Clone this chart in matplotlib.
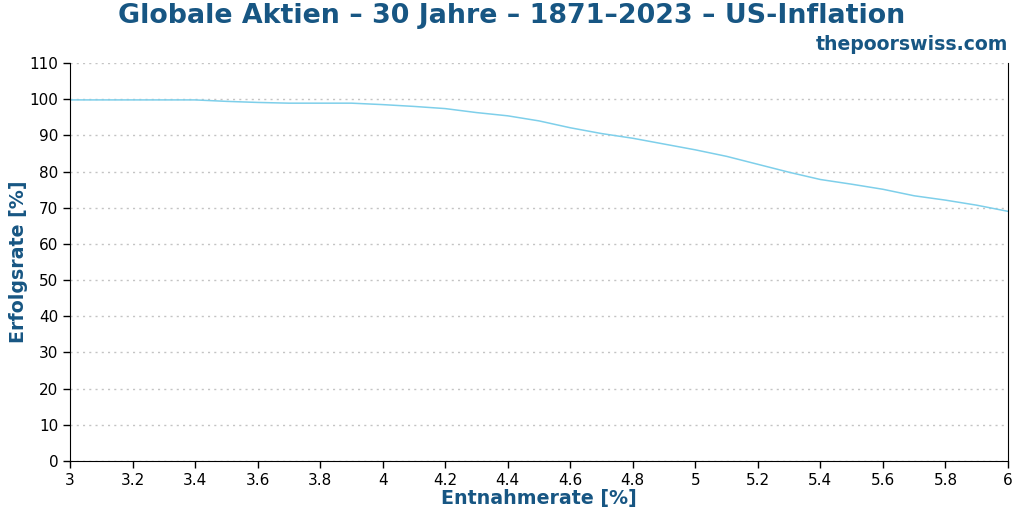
import numpy as np
import matplotlib
matplotlib.use('Agg')
import matplotlib.pyplot as plt

# Entnahmerate [%] vs Erfolgsrate [%]
rate = [3.0, 3.1, 3.2, 3.3, 3.4, 3.5, 3.6, 3.7, 3.8, 3.9, 4.0,
        4.1, 4.2, 4.3, 4.4, 4.5, 4.6, 4.7, 4.8, 4.9, 5.0,
        5.1, 5.2, 5.3, 5.4, 5.5, 5.6, 5.7, 5.8, 5.9, 6.0]
success = [99.8, 99.8, 99.8, 99.8, 99.8, 99.4, 99.1, 98.9, 98.9, 98.9, 98.5,
           98.0, 97.4, 96.3, 95.4, 94.0, 92.1, 90.5, 89.2, 87.6, 86.0,
           84.2, 82.0, 79.8, 77.8, 76.5, 75.1, 73.3, 72.1, 70.7, 69.0]

xticks = [3, 3.2, 3.4, 3.6, 3.8, 4, 4.2, 4.4, 4.6, 4.8, 5, 5.2, 5.4, 5.6, 5.8, 6]
xtick_labels = ['3', '3.2', '3.4', '3.6', '3.8', '4', '4.2', '4.4', '4.6', '4.8',
                '5', '5.2', '5.4', '5.6', '5.8', '6']
yticks = list(range(0, 111, 10))

blue = '#175683'

fig = plt.figure(figsize=(10.24, 5.12), dpi=100)
ax = fig.add_axes([70/1024, 1 - 461/512, (1008 - 70)/1024, (461 - 63)/512])

ax.plot(rate, success, color='#7ecfea', linewidth=1.1)

ax.set_xlim(3, 6)
ax.set_ylim(0, 110)
ax.set_xticks(xticks)
ax.set_xticklabels(xtick_labels)
ax.set_yticks(yticks)
ax.tick_params(labelsize=11, length=5, width=1)
ax.grid(True, axis='y', linestyle=(0, (1.5, 3)), color='#c4c4c4', linewidth=1)
ax.spines['top'].set_visible(False)

ax.set_xlabel('Entnahmerate [%]', fontsize=13.7, fontweight='bold', color=blue, labelpad=1)
ax.set_ylabel('Erfolgsrate [%]', fontsize=13.7, fontweight='bold', color=blue)
ax.yaxis.set_label_coords(-0.045, 0.5)

fig.text(0.5, 0.968, 'Globale Aktien – 30 Jahre – 1871–2023 – US-Inflation',
         ha='center', va='center', fontsize=19.4, fontweight='bold', color=blue)
fig.text(1008/1024, 0.913, 'thepoorswiss.com', ha='right', va='center',
         fontsize=13.6, fontweight='bold', color=blue)

fig.savefig('out.png', dpi=100)
